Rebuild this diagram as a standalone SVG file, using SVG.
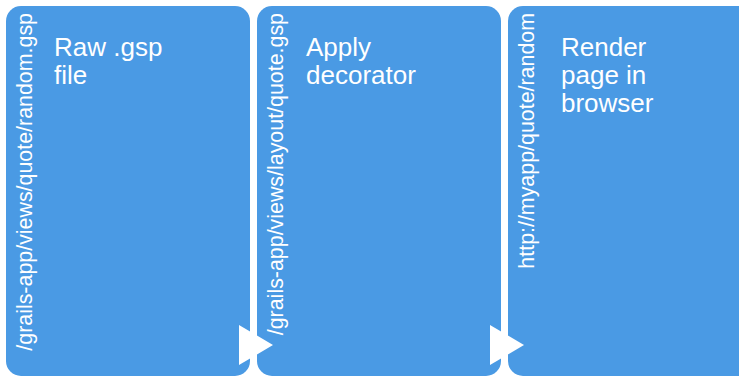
<svg xmlns="http://www.w3.org/2000/svg" width="739" height="377" viewBox="0 0 739 377">
<style>
.box{fill:#4a9ae4;}
.lbl{font-family:"Liberation Sans",Arial,sans-serif;font-size:26px;fill:#ffffff;}
.vt{font-family:"Liberation Sans",Arial,sans-serif;font-size:21.4px;fill:#ffffff;text-anchor:end;}
.arr{fill:#ffffff;}
</style>
<rect width="739" height="377" fill="#ffffff"/>
<g id="node1">
<rect class="box" x="6" y="6" width="244" height="370" rx="15"/>
<text class="vt" transform="translate(31.5,13) rotate(-90)">/grails-app/views/quote/random.gsp</text>
<text class="lbl" x="54" y="56">Raw .gsp</text>
<text class="lbl" x="54" y="84">file</text>
</g>
<g id="node2">
<rect class="box" x="257" y="6" width="244" height="370" rx="15"/>
<text class="vt" transform="translate(282.5,13) rotate(-90)">/grails-app/views/layout/quote.gsp</text>
<text class="lbl" x="306" y="56">Apply</text>
<text class="lbl" x="306" y="84">decorator</text>
</g>
<g id="node3">
<rect class="box" x="508" y="6" width="244" height="370" rx="15"/>
<text class="vt" transform="translate(533.5,13) rotate(-90)">http://myapp/quote/random</text>
<text class="lbl" x="561" y="56">Render</text>
<text class="lbl" x="561" y="84">page in</text>
<text class="lbl" x="561" y="112">browser</text>
</g>
<g id="connectors">
<polygon class="arr" points="239,325 273,345 239,365"/>
<polygon class="arr" points="490,325 524,345 490,365"/>
</g>
</svg>
